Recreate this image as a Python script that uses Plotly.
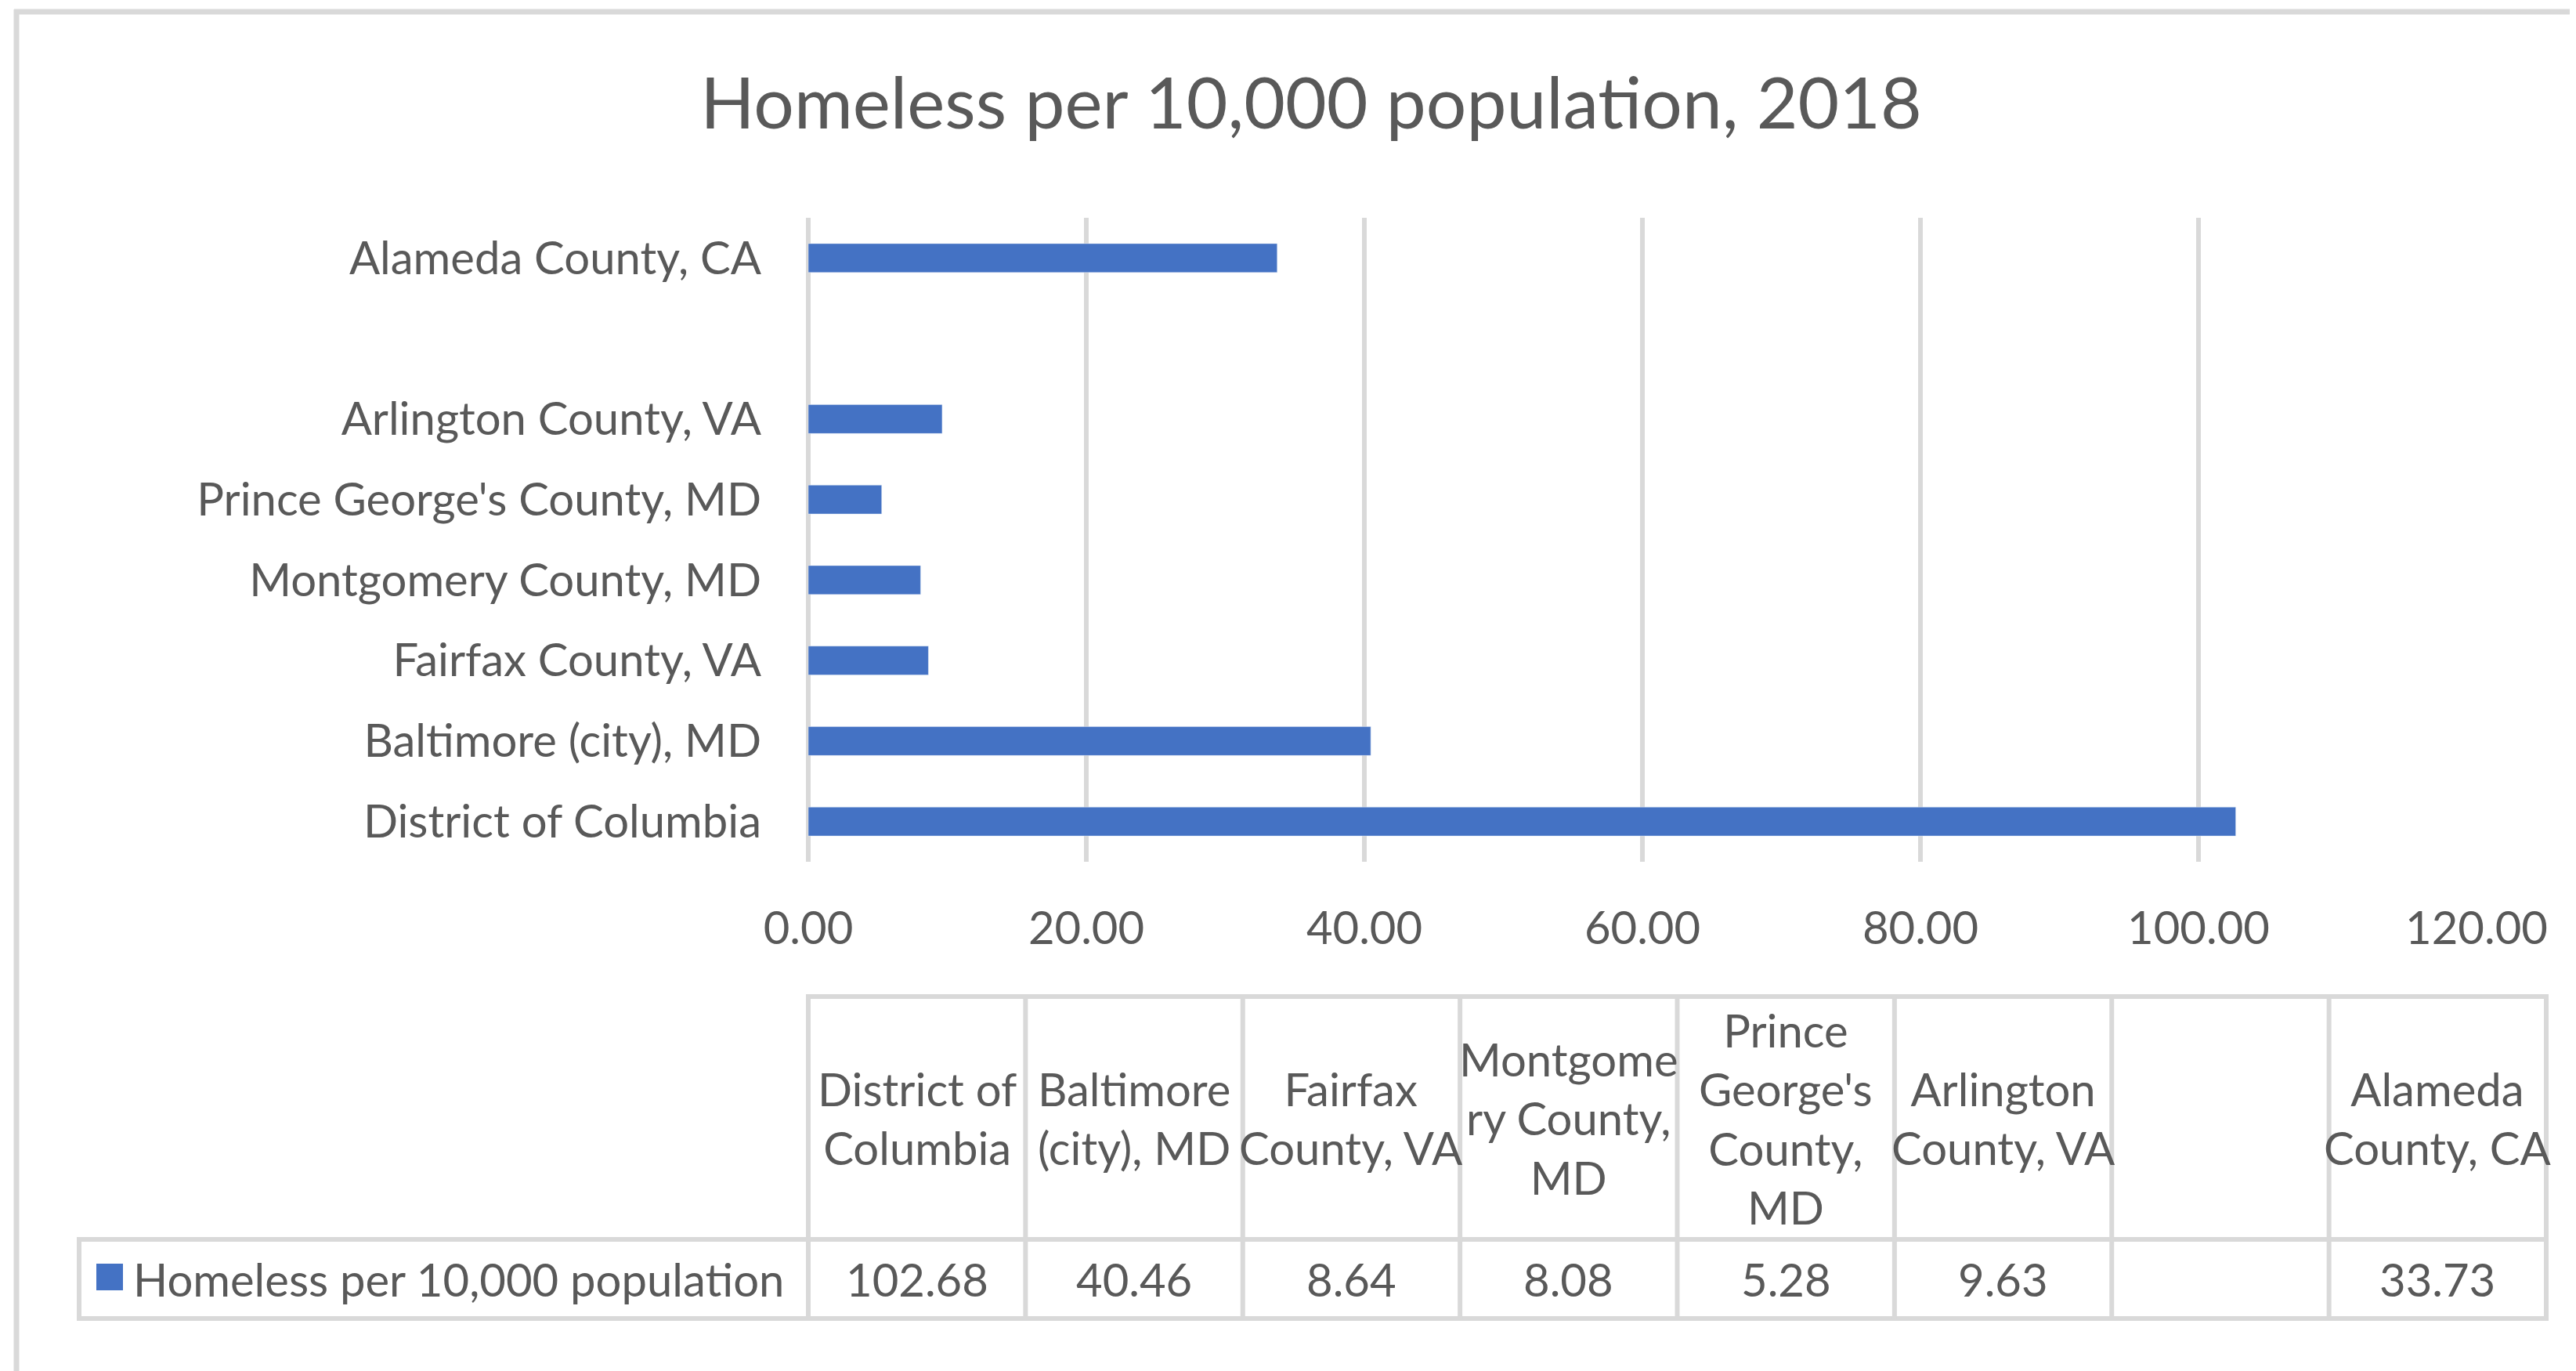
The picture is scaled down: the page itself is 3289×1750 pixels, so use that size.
import plotly.graph_objects as go

# ---------------- data ----------------
categories = ["District of Columbia", "Baltimore (city), MD", "Fairfax County, VA",
              "Montgomery County, MD", "Prince George's County, MD", "Arlington County, VA",
              " ", "Alameda County, CA"]
values = [102.68, 40.46, 8.64, 8.08, 5.28, 9.63, None, 33.73]
table_headers = ["District of<br>Columbia", "Baltimore<br>(city), MD", "Fairfax<br>County, VA",
                 "Montgome<br>ry County,<br>MD", "Prince<br>George's<br>County,<br>MD",
                 "Arlington<br>County, VA", "", "Alameda<br>County, CA"]
series_name = "Homeless per 10,000 population"
title_text = "Homeless per 10,000 population, 2018"
x_ticks = [0, 20, 40, 60, 80, 100, 120]

# ---------------- layout geometry (pixels, reference coords) ----------------
W, H = 3289, 1750
OFF = 8  # page body margin compensation
PL, PR, PT, PB = 1032, 3162, 278, 1100
FONT = "Lato"
TXT = "#595959"
GRID = "#D9D9D9"
BAR = "#4472C4"
FS = 58


def px(x):
    return (x - PL) / (PR - PL)


def py(y):
    return (PB - y) / (PB - PT)


fig = go.Figure()
fig.add_trace(go.Bar(
    x=values, y=categories, orientation="h", marker_color=BAR,
    width=0.36, name=series_name, showlegend=False,
))

shapes = []
annotations = []

# outer chart border (top and left visible)
shapes.append(dict(type="line", xref="paper", yref="paper", x0=px(18), x1=px(W + 20),
                   y0=py(15), y1=py(15), line=dict(color=GRID, width=7)))
shapes.append(dict(type="line", xref="paper", yref="paper", x0=px(21), x1=px(21),
                   y0=py(12), y1=py(H + 20), line=dict(color=GRID, width=7)))

# data table geometry
T_TOP, T_MID, T_BOT = 1272, 1582, 1683
C_LEFT, C_RIGHT = 1032, 3251
LEG_LEFT = 101
n = len(categories)
cw = (C_RIGHT - C_LEFT) / n
LW = 6


def hline(x0, x1, y):
    shapes.append(dict(type="line", xref="paper", yref="paper", x0=px(x0), x1=px(x1),
                       y0=py(y), y1=py(y), line=dict(color=GRID, width=LW)))


def vline(x, y0, y1):
    shapes.append(dict(type="line", xref="paper", yref="paper", x0=px(x), x1=px(x),
                       y0=py(y0), y1=py(y1), line=dict(color=GRID, width=LW)))


hline(C_LEFT - 3, C_RIGHT + 3, T_TOP)
hline(LEG_LEFT - 3, C_RIGHT + 3, T_MID)
hline(LEG_LEFT - 3, C_RIGHT + 3, T_BOT)
vline(LEG_LEFT, T_MID, T_BOT)
for i in range(n + 1):
    vline(C_LEFT + i * cw, T_TOP, T_BOT)

for i in range(n):
    cx = C_LEFT + (i + 0.5) * cw
    if table_headers[i]:
        annotations.append(dict(x=px(cx), y=py((T_TOP + T_MID) / 2), xref="paper", yref="paper",
                                text=table_headers[i], showarrow=False, xanchor="center",
                                yanchor="middle", font=dict(family=FONT, size=FS, color=TXT)))
    if values[i] is not None:
        annotations.append(dict(x=px(cx), y=py((T_MID + T_BOT) / 2), xref="paper", yref="paper",
                                text=f"{values[i]:.2f}", showarrow=False, xanchor="center",
                                yanchor="middle", font=dict(family=FONT, size=FS, color=TXT)))

# legend key inside table
shapes.append(dict(type="rect", xref="paper", yref="paper", x0=px(123), x1=px(157),
                   y0=py(1613), y1=py(1647), fillcolor=BAR, line=dict(width=0)))
annotations.append(dict(x=px(168), y=py((T_MID + T_BOT) / 2), xref="paper", yref="paper",
                        text=series_name, showarrow=False, xanchor="left", yanchor="middle",
                        font=dict(family=FONT, size=FS, color=TXT)))

fig.update_layout(
    width=W, height=H,
    margin=dict(l=PL - OFF, r=W - PR + OFF, t=PT - OFF, b=H - PB + OFF, pad=0),
    paper_bgcolor="white", plot_bgcolor="white",
    title=dict(text=title_text, x=(1674 - OFF) / W, y=1 - (132 - OFF) / H,
               xref="container", yref="container",
               xanchor="center", yanchor="middle",
               font=dict(family=FONT, size=91, color=TXT)),
    xaxis=dict(range=[0, 120], tickvals=x_ticks, tickformat=".2f", showgrid=True,
               gridcolor=GRID, gridwidth=6, zeroline=True, zerolinecolor=GRID, zerolinewidth=6,
               showline=False, ticks="", ticklabelstandoff=46,
               tickfont=dict(family=FONT, size=FS, color=TXT)),
    yaxis=dict(type="category", categoryorder="array", categoryarray=categories,
               showgrid=False, zeroline=False, showline=False, ticks="",
               ticklabelstandoff=59, tickfont=dict(family=FONT, size=FS, color=TXT)),
    shapes=shapes, annotations=annotations, bargap=0.64,
    font=dict(family=FONT, color=TXT),
)

fig.write_html("out.html")
